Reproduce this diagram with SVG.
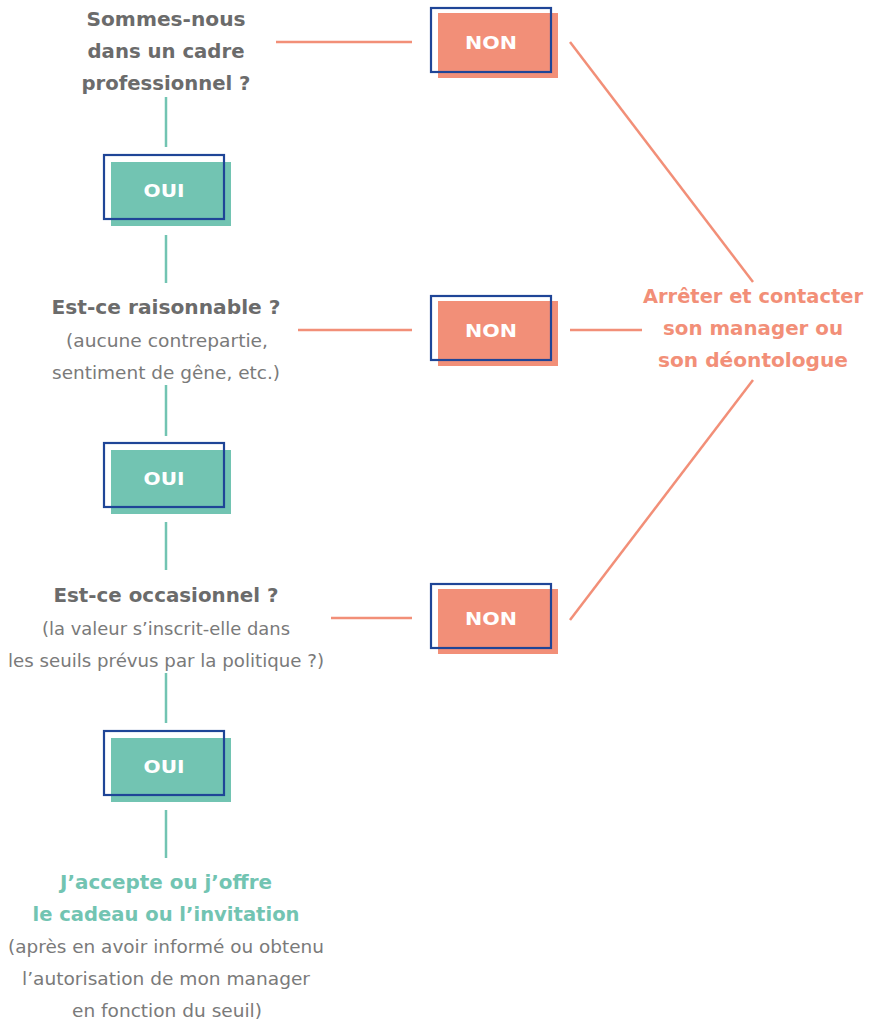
<svg xmlns="http://www.w3.org/2000/svg" width="874" height="1023" viewBox="0 0 874 1023">
<style>
text{font-family:"DejaVu Sans","Liberation Sans",sans-serif;text-anchor:middle}
.q{font-size:20px;font-weight:bold;fill:#6b6b6b}
.s{font-size:17.5px;fill:#7a7a7a}
.st{font-size:20px;font-weight:bold;fill:#f28f78}
.ok{font-size:20px;font-weight:bold;fill:#72c4b2}
.btxt{font-size:18.5px;font-weight:bold;fill:#ffffff}
.gfill{fill:#72c4b2}
.rfill{fill:#f28f78}
.frame{fill:none;stroke:#1f4597;stroke-width:2.2}
.tl{stroke:#72c4b2;stroke-width:2.5;fill:none}
.sl{stroke:#f28f78;stroke-width:2.5;fill:none}
</style>
<g id="connectors">
<line class="tl" x1="166" y1="97" x2="166" y2="147"/>
<line class="tl" x1="166" y1="235" x2="166" y2="283"/>
<line class="tl" x1="166" y1="385" x2="166" y2="436"/>
<line class="tl" x1="166" y1="522" x2="166" y2="570"/>
<line class="tl" x1="166" y1="673" x2="166" y2="723"/>
<line class="tl" x1="166" y1="810" x2="166" y2="858"/>
<line class="sl" x1="276" y1="42" x2="412" y2="42"/>
<line class="sl" x1="298" y1="330" x2="412" y2="330"/>
<line class="sl" x1="331" y1="618" x2="412" y2="618"/>
<line class="sl" x1="570" y1="330" x2="642" y2="330"/>
<line class="sl" x1="570" y1="42" x2="753" y2="282"/>
<line class="sl" x1="753" y1="380" x2="570" y2="620"/>
</g>
<g id="q1">
<text class="q" x="166" y="26" textLength="159" lengthAdjust="spacingAndGlyphs">Sommes-nous</text>
<text class="q" x="166" y="58" textLength="157" lengthAdjust="spacingAndGlyphs">dans un cadre</text>
<text class="q" x="166" y="90" textLength="169" lengthAdjust="spacingAndGlyphs">professionnel ?</text>
</g>
<g id="non1">
<rect class="rfill" x="438" y="13" width="120" height="65"/>
<rect class="frame" x="431" y="8" width="120" height="64"/>
<text class="btxt" x="491" y="49" textLength="52" lengthAdjust="spacingAndGlyphs">NON</text>
</g>
<g id="oui1">
<rect class="gfill" x="111" y="162" width="120" height="64"/>
<rect class="frame" x="104" y="155" width="120" height="64"/>
<text class="btxt" x="164" y="197" textLength="41" lengthAdjust="spacingAndGlyphs">OUI</text>
</g>
<g id="q2">
<text class="q" x="166" y="314" textLength="229" lengthAdjust="spacingAndGlyphs">Est-ce raisonnable ?</text>
<text class="s" x="167" y="347" textLength="202" lengthAdjust="spacingAndGlyphs">(aucune contrepartie,</text>
<text class="s" x="166" y="379" textLength="228" lengthAdjust="spacingAndGlyphs">sentiment de gêne, etc.)</text>
</g>
<g id="non2">
<rect class="rfill" x="438" y="301" width="120" height="65"/>
<rect class="frame" x="431" y="296" width="120" height="64"/>
<text class="btxt" x="491" y="337" textLength="52" lengthAdjust="spacingAndGlyphs">NON</text>
</g>
<g id="stop">
<text class="st" x="753" y="303" textLength="220" lengthAdjust="spacingAndGlyphs">Arrêter et contacter</text>
<text class="st" x="753" y="335" textLength="180" lengthAdjust="spacingAndGlyphs">son manager ou</text>
<text class="st" x="753" y="367" textLength="190" lengthAdjust="spacingAndGlyphs">son déontologue</text>
</g>
<g id="oui2">
<rect class="gfill" x="111" y="450" width="120" height="64"/>
<rect class="frame" x="104" y="443" width="120" height="64"/>
<text class="btxt" x="164" y="485" textLength="41" lengthAdjust="spacingAndGlyphs">OUI</text>
</g>
<g id="q3">
<text class="q" x="166" y="602" textLength="225" lengthAdjust="spacingAndGlyphs">Est-ce occasionnel ?</text>
<text class="s" x="166" y="635" textLength="248" lengthAdjust="spacingAndGlyphs">(la valeur s’inscrit-elle dans</text>
<text class="s" x="166" y="667" textLength="316" lengthAdjust="spacingAndGlyphs">les seuils prévus par la politique ?)</text>
</g>
<g id="non3">
<rect class="rfill" x="438" y="589" width="120" height="65"/>
<rect class="frame" x="431" y="584" width="120" height="64"/>
<text class="btxt" x="491" y="625" textLength="52" lengthAdjust="spacingAndGlyphs">NON</text>
</g>
<g id="oui3">
<rect class="gfill" x="111" y="738" width="120" height="64"/>
<rect class="frame" x="104" y="731" width="120" height="64"/>
<text class="btxt" x="164" y="773" textLength="41" lengthAdjust="spacingAndGlyphs">OUI</text>
</g>
<g id="result">
<text class="ok" x="166" y="889" textLength="212" lengthAdjust="spacingAndGlyphs">J’accepte ou j’offre</text>
<text class="ok" x="166" y="921" textLength="267" lengthAdjust="spacingAndGlyphs">le cadeau ou l’invitation</text>
<text class="s" x="166" y="953" textLength="316" lengthAdjust="spacingAndGlyphs">(après en avoir informé ou obtenu</text>
<text class="s" x="166" y="985" textLength="288" lengthAdjust="spacingAndGlyphs">l’autorisation de mon manager</text>
<text class="s" x="167" y="1017" textLength="190" lengthAdjust="spacingAndGlyphs">en fonction du seuil)</text>
</g>
</svg>
